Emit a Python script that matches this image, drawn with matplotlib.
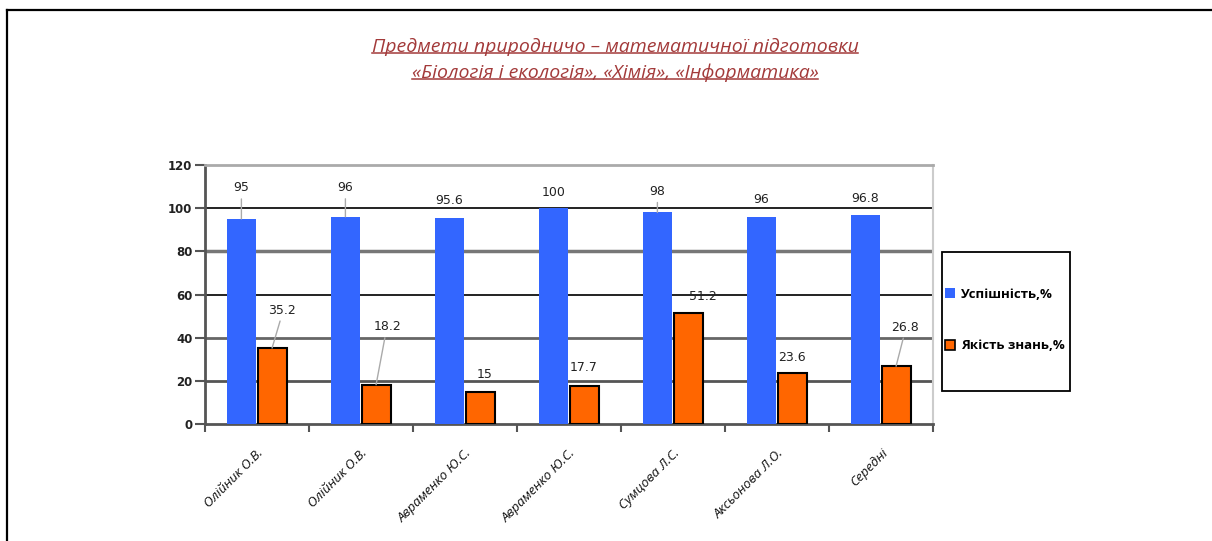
import matplotlib
matplotlib.use("Agg")
import matplotlib.pyplot as plt
import numpy as np
from matplotlib.lines import Line2D
from matplotlib.patches import Rectangle

plt.rcParams["font.family"] = ["Open Sans", "DejaVu Sans"]

# data
teachers = ["Олійник О.В.", "Олійник О.В.", "Авраменко Ю.С.", "Авраменко Ю.С.",
            "Сумцова Л.С.", "Аксьонова Л.О.", "Середні"]
success = [95, 96, 95.6, 100, 98, 96, 96.8]
quality = [35.2, 18.2, 15, 17.7, 51.2, 23.6, 26.8]
success_label = "Успішність,%"
quality_label = "Якість знань,%"
title_lines = ["Предмети природничо – математичної підготовки",
               "«Біологія і екологія», «Хімія», «Інформатика»"]

# label placement (pixels from bar top)
success_off = [(0, 31), (0, 29), (0, 17), (0, 16), (0, 21), (0, 17), (0, 17)]
quality_off = [(10, 38), (11, 58), (5, 17), (0, 18), (15, 17), (0, 16), (9, 39)]

blue = "#3366ff"
orange = "#ff6600"
title_col = "#a33a3a"

fig = plt.figure(figsize=(12.12, 5.41), dpi=100)
ax = fig.add_axes([205 / 1212, 1 - 424 / 541, 728 / 1212, 259 / 541])

x = np.arange(len(teachers))
w = 0.28
ax.bar(x - 0.15, success, w, color=blue, edgecolor="none", zorder=3)
ax.bar(x + 0.145, quality, w, color=orange, edgecolor="black", linewidth=1.5, zorder=3)

ax.set_xlim(-0.5, len(teachers) - 0.5)
ax.set_ylim(0, 120)
ax.set_yticks(range(0, 121, 20))

# gridlines look uneven in the source, copy that
grid_styles = {20: ("#555555", 2.0), 40: ("#666666", 2.0), 60: ("#111111", 1.3),
               80: ("#777777", 2.5), 100: ("#111111", 1.3)}
for v, (c, lw) in grid_styles.items():
    ax.axhline(v, color=c, lw=lw, zorder=1)

for s in ["left", "bottom"]:
    ax.spines[s].set_color("#555555")
    ax.spines[s].set_linewidth(2)
ax.spines["top"].set_color("#aaaaaa")
ax.spines["top"].set_linewidth(2)
ax.spines["right"].set_color("#cccccc")
ax.spines["right"].set_linewidth(1.5)

ax.tick_params(axis="y", direction="out", length=7, width=1.5, color="#555555",
               labelsize=8.5, pad=2)
for t in ax.get_yticklabels():
    t.set_family("DejaVu Sans")
    t.set_fontweight("bold")
    t.set_color("#222222")

ax.set_xticks(x)
ax.set_xticks(np.arange(-0.5, len(teachers), 1), minor=True)
ax.tick_params(axis="x", which="major", length=0, pad=16)
ax.tick_params(axis="x", which="minor", direction="out", length=6, width=1.5, color="#555555")
ax.set_xticklabels(teachers, rotation=45, ha="right", rotation_mode="anchor",
                   fontsize=9.5, style="italic", color="#111111")

# data labels with leader lines
def label_bars(xs, vals, offs):
    for xi, v, (dx, dy) in zip(xs, vals, offs):
        ax.annotate(f"{v:g}", (xi, v), xytext=(dx, dy), textcoords="offset pixels",
                    ha="center", va="center", fontsize=9, family="DejaVu Sans",
                    color="#222222", zorder=5)
        if dy > 20:
            ax.annotate("", (xi, v), xytext=(dx * 0.8, dy - 11), textcoords="offset pixels",
                        arrowprops=dict(arrowstyle="-", color="#aaaaaa", lw=1,
                                        shrinkA=0, shrinkB=0), zorder=4)

label_bars(x - 0.15, success, success_off)
label_bars(x + 0.145, quality, quality_off)

# title, underlined
title_texts = []
for i, line in enumerate(title_lines):
    t = fig.text(615 / 1212, 1 - (47 + 26 * i) / 541, line, ha="center", va="center",
                 fontsize=14, style="italic", color=title_col)
    title_texts.append(t)

# legend in its own box
fig.add_artist(Rectangle((942 / 1212, 1 - 391 / 541), 128 / 1212, 139 / 541,
                         transform=fig.transFigure, fill=False, edgecolor="black", lw=1.3))
handles = [Rectangle((0, 0), 1, 1, facecolor=blue, edgecolor="none"),
           Rectangle((0, 0), 1, 1, facecolor=orange, edgecolor="black", lw=1.2)]
fig.legend(handles, [success_label, quality_label], loc="center left",
           bbox_to_anchor=(933 / 1212, 1 - 320 / 541), frameon=False,
           handlelength=0.8, handleheight=0.8, handletextpad=0.4, labelspacing=2.9,
           prop={"size": 9.5, "weight": "bold"})

# outer frame
fig.add_artist(Line2D([7 / 1212, 1], [1 - 10 / 541, 1 - 10 / 541],
                      transform=fig.transFigure, color="black", lw=1.6))
fig.add_artist(Line2D([7 / 1212, 7 / 1212], [1 - 10 / 541, 0],
                      transform=fig.transFigure, color="black", lw=1.6))

fig.canvas.draw()
r = fig.canvas.get_renderer()
for t in title_texts:
    bb = t.get_window_extent(r).transformed(fig.transFigure.inverted())
    fig.add_artist(Line2D([bb.x0, bb.x1], [bb.y0 + 0.006, bb.y0 + 0.006],
                          transform=fig.transFigure, color=title_col, lw=1.1))

fig.savefig("out.png", dpi=100)
